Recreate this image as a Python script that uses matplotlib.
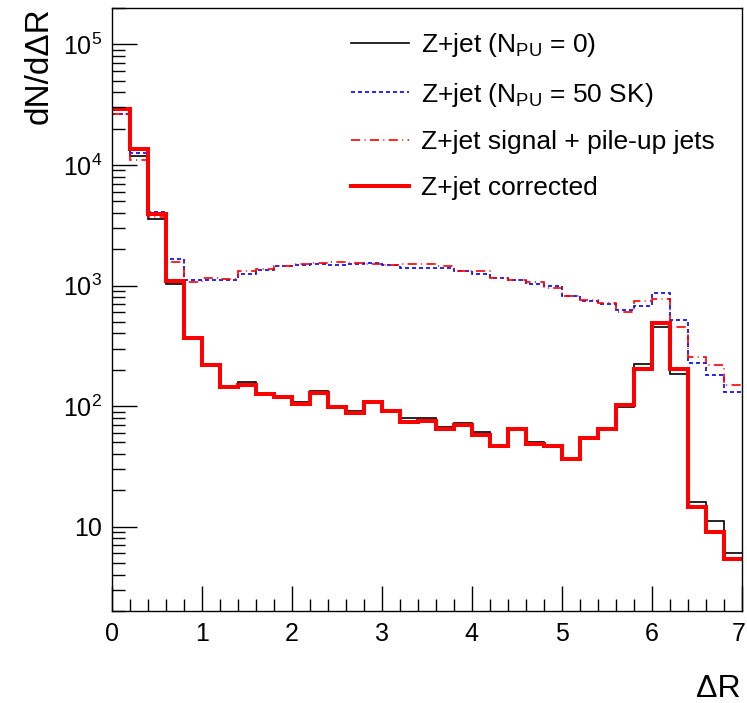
import numpy as np
import matplotlib
matplotlib.use('Agg')
import matplotlib.pyplot as plt
from matplotlib.lines import Line2D
from matplotlib.transforms import ScaledTranslation
from matplotlib.ticker import FixedLocator, FuncFormatter, LogLocator, NullFormatter

plt.rcParams['font.family'] = ['Liberation Sans', 'DejaVu Sans']
plt.rcParams['mathtext.fontset'] = 'custom'
plt.rcParams['mathtext.rm'] = 'Liberation Sans'
plt.rcParams['mathtext.it'] = 'Liberation Sans:italic'

# bin edges in Delta R (35 bins of 0.2)
edges = np.round(np.arange(0, 7.01, 0.2), 1)

# Z+jet (N_PU = 0)
nopu = [29000, 11900, 3560, 1030, 365, 221, 145, 157, 127, 119,
        109, 133, 98.6, 91.4, 109, 92, 79, 79, 67.5, 72.8,
        60.7, 47, 64.6, 50.7, 46.5, 36.5, 55, 66, 97.5, 225,
        452, 184, 15.9, 11.1, 6.06]

# Z+jet (N_PU = 50 SK)
pu50 = [26500, 12650, 4100, 1660, 1110, 1115, 1110, 1250, 1350, 1465,
        1480, 1510, 1490, 1510, 1530, 1470, 1400, 1400, 1400, 1330,
        1250, 1160, 1115, 1020, 982, 826, 742, 706, 630, 670,
        864, 514, 228, 180, 131]

# Z+jet signal + pile-up jets
sig_pu = [26200, 11000, 3720, 1560, 1060, 1150, 1130, 1310, 1360, 1440,
          1510, 1550, 1560, 1545, 1510, 1480, 1500, 1510, 1446, 1320,
          1310, 1160, 1120, 1065, 957, 820, 755, 710, 601, 742,
          771, 452, 256, 221, 149]

# Z+jet corrected
corrected = [29000, 13600, 3940, 1080, 367, 221, 145, 151, 126, 119,
             105, 129, 98.6, 87, 109, 91.4, 74, 75.5, 64.6, 69.7,
             57.6, 47, 64.6, 48.5, 47, 36.5, 54, 64.6, 103, 205,
             492, 205, 14.6, 8.97, 5.4]

labels = [r'Z+jet (N$_{\mathregular{PU}}$ = 0)',
          r'Z+jet (N$_{\mathregular{PU}}$ = 50 SK)',
          'Z+jet signal + pile-up jets',
          'Z+jet corrected']

fig = plt.figure(figsize=(7.47, 7.03), dpi=100)
ax = fig.add_axes([111.7 / 747, 92 / 703, 630 / 747, 603 / 703])

blue_ls = (0, (2.4, 1.8))
red_ls = (0, (5.5, 2.6, 0.6, 2.6))

ax.stairs(nopu, edges, baseline=None, color='black', lw=1.2)
ax.stairs(pu50, edges, baseline=None, color='blue', lw=1.2, linestyle=blue_ls)
ax.stairs(sig_pu, edges, baseline=None, color='red', lw=1.2, linestyle=red_ls)
ax.stairs(corrected, edges, baseline=None, color='red', lw=2.9)

ax.set_yscale('log')
ax.set_xlim(0, 7)
ax.set_ylim(2, 2e5)

ax.xaxis.set_major_locator(FixedLocator(range(8)))
ax.xaxis.set_minor_locator(FixedLocator(edges))
ax.yaxis.set_major_locator(LogLocator(base=10))
ax.yaxis.set_minor_locator(LogLocator(base=10, subs=np.arange(2, 10)))
ax.yaxis.set_minor_formatter(NullFormatter())

def ylab(v, pos):
    e = int(round(np.log10(v)))
    if e == 1:
        return '10'
    return r'$\mathregular{10^{%d}}$' % e

ax.yaxis.set_major_formatter(FuncFormatter(ylab))

ax.tick_params(which='both', direction='in', top=False, right=False,
               labelsize=18, width=1, color='black')
ax.tick_params(which='major', length=18)
ax.tick_params(which='minor', length=9)
ax.tick_params(axis='x', pad=8)
ax.tick_params(axis='y', pad=7)
for s in ax.spines.values():
    s.set_linewidth(1)

ax.set_xlabel('ΔR', fontsize=23, ha='right')
ax.xaxis.set_label_coords(0.998, -0.104)
ax.set_ylabel('dN/dΔR', fontsize=24, loc='top')
ax.yaxis.set_label_coords(-0.09, 1.002)

handles = [Line2D([], [], color='black', lw=1.2),
           Line2D([], [], color='blue', lw=1.2, linestyle=blue_ls),
           Line2D([], [], color='red', lw=1.2, linestyle=red_ls),
           Line2D([], [], color='red', lw=2.9)]
ax.legend(handles, labels, loc='upper left', frameon=False, fontsize=19,
          bbox_to_anchor=(351 / 747, (703 - 31) / 703),
          bbox_transform=fig.transFigure, borderpad=0, borderaxespad=0,
          handlelength=2.2, handletextpad=0.45, labelspacing=0.82)

# keep the last x label ("7") inside the canvas
fig.canvas.draw()
last = ax.xaxis.get_major_ticks()[-1].label1
last.set_transform(last.get_transform() + ScaledTranslation(-0.03, 0, fig.dpi_scale_trans))

fig.savefig('out.png', dpi=100)
